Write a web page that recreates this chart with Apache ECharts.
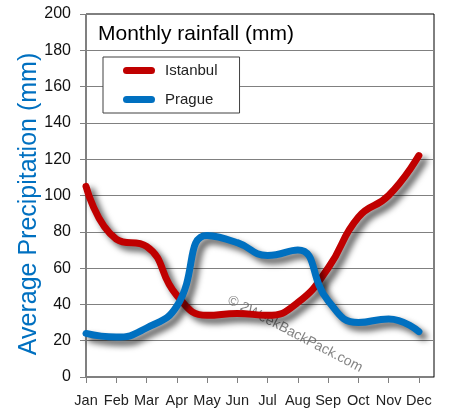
<!DOCTYPE html>
<html>
<head>
<meta charset="utf-8">
<script src="https://cdn.jsdelivr.net/npm/echarts@6/dist/echarts.min.js"></script>
<style>
html,body{margin:0;padding:0;background:#fff;}
#c{width:454px;height:419px;}
</style>
</head>
<body>
<div id="c"></div>
<script>
var months = ['Jan','Feb','Mar','Apr','May','Jun','Jul','Aug','Sep','Oct','Nov','Dec'];
var istanbul = [105, 76, 72, 45, 34, 35, 34, 41, 60, 88, 100, 122];
var prague = [24, 22, 27, 39, 78, 74, 67, 70, 42, 30, 32, 25];
var yTicks = [0, 20, 40, 60, 80, 100, 120, 140, 160, 180, 200];
var titleText = 'Monthly rainfall (mm)';
var yTitle = 'Average Precipitation (mm)';
var watermark = '\u00A9 2WeekBackPack.com';

var FONT = '"Liberation Sans", Arial, sans-serif';
var monthIdx = months.map(function(m, i){ return i; });
function pairs(arr){ return arr.map(function(v, i){ return [i, v]; }); }

var chart = echarts.init(document.getElementById('c'), null, {renderer: 'canvas'});
var shadow = {shadowColor: 'rgba(0,0,0,0.65)', shadowBlur: 6, shadowOffsetX: 5, shadowOffsetY: 5};

chart.setOption({
  animation: false,
  backgroundColor: '#fff',
  grid: {left: 86, top: 14, right: 20, bottom: 42, show: true, borderColor: '#000', borderWidth: 1, backgroundColor: 'transparent'},
  title: {
    text: titleText, left: 93, top: 19,
    textStyle: {fontFamily: FONT, fontSize: 21, fontWeight: 'normal', color: '#000'}
  },
  legend: {
    orient: 'vertical', left: 103, top: 57,
    padding: [6, 22, 6, 20], itemGap: 14,
    itemWidth: 32, itemHeight: 7,
    backgroundColor: '#fff', borderColor: '#404040', borderWidth: 1,
    icon: 'path://M3.5,0 H28.5 A3.5,3.5 0 0 1 28.5,7 H3.5 A3.5,3.5 0 0 1 3.5,0 Z',
    textStyle: {fontFamily: FONT, fontSize: 15, color: '#222', padding: [0, 0, 0, 5]},
    data: ['Istanbul', 'Prague']
  },
  xAxis: {
    type: 'value', min: 0, max: 11.5, interval: 1,
    axisLine: {show: true, lineStyle: {color: '#808080', width: 1}},
    axisTick: {show: true, length: 6, lineStyle: {color: '#808080'}, customValues: monthIdx},
    axisLabel: {customValues: monthIdx, margin: 16, fontFamily: FONT, fontSize: 14.5, color: '#222',
      formatter: function(v){ return months[v] || ''; }},
    splitLine: {show: false}
  },
  yAxis: {
    type: 'value', min: 0, max: 200, interval: 20,
    axisLine: {show: true, lineStyle: {color: '#808080', width: 1}},
    axisTick: {show: true, length: 6, lineStyle: {color: '#808080'}},
    axisLabel: {margin: 15, fontFamily: FONT, fontSize: 16, color: '#111',
      formatter: function(v){ return yTicks.indexOf(v) >= 0 ? String(v) : ''; }},
    splitLine: {show: true, showMaxLine: false, lineStyle: {color: '#808080', width: 1}}
  },
  graphic: [
    {type: 'text', x: 29, y: 204, rotation: Math.PI / 2,
      style: {text: yTitle, fill: '#0070c0', font: '25px ' + FONT, textAlign: 'center', textVerticalAlign: 'middle'}},
    {type: 'text', x: 295, y: 334, rotation: -0.48, z: 1,
      style: {text: watermark, fill: 'rgba(90,90,90,0.75)', font: '14px ' + FONT, textAlign: 'center', textVerticalAlign: 'middle'}}
  ],
  series: [
    {name: 'Istanbul', type: 'line', data: pairs(istanbul), smooth: 0.5, symbol: 'none', z: 3,
      itemStyle: {color: '#c00000'},
      lineStyle: Object.assign({color: '#c00000', width: 7, cap: 'round', join: 'round'}, shadow)},
    {name: 'Prague', type: 'line', data: pairs(prague), smooth: 0.5, symbol: 'none', z: 3,
      itemStyle: {color: '#0070c0'},
      lineStyle: Object.assign({color: '#0070c0', width: 7, cap: 'round', join: 'round'}, shadow)}
  ]
});
</script>
</body>
</html>
